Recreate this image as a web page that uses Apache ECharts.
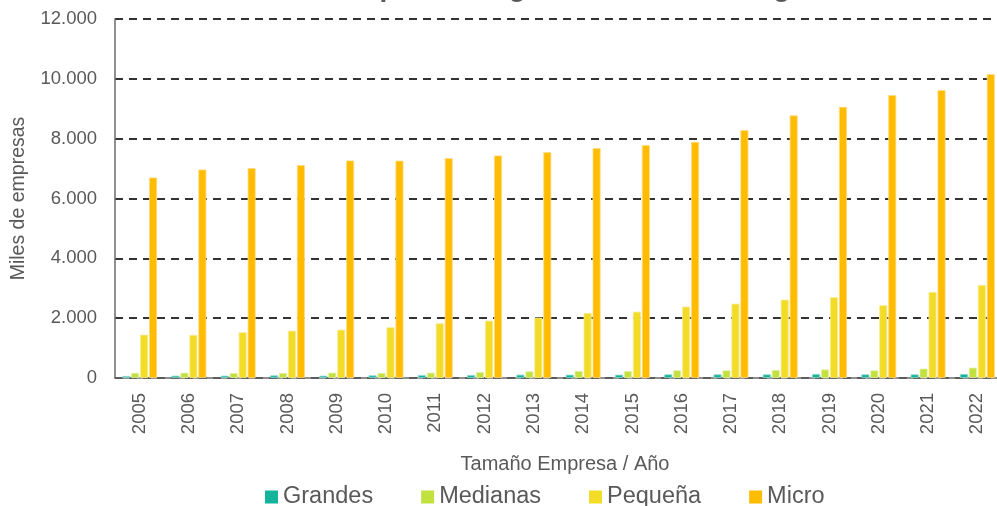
<!DOCTYPE html>
<html>
<head>
<meta charset="utf-8">
<script src="https://cdn.jsdelivr.net/npm/echarts@6/dist/echarts.min.js"></script>
<style>
  html, body { margin: 0; padding: 0; background: #fff; }
  #chart { width: 997px; height: 506px; }
</style>
</head>
<body>
<div id="chart"></div>
<script>
var years = ['2005', '2006', '2007', '2008', '2009', '2010', '2011', '2012', '2013',
             '2014', '2015', '2016', '2017', '2018', '2019', '2020', '2021', '2022'];
var grandes = [67, 78, 78, 89, 78, 89, 100, 100, 111, 111, 111, 122, 122, 122, 134, 122, 122, 134];
var medianas = [172, 178, 167, 167, 178, 167, 178, 200, 223, 234, 234, 256, 256, 268, 285, 256, 315, 346];
var pequena = [1448, 1440, 1528, 1582, 1615, 1695, 1829, 1917, 2017, 2173, 2218, 2385, 2485, 2619, 2698, 2431, 2876, 3110];
var micro = [6702, 6970, 7013, 7114, 7271, 7265, 7348, 7438, 7548, 7682, 7782, 7893, 8284, 8776, 9063, 9455, 9622, 10157];

var gray = '#595959';
var chart = echarts.init(document.getElementById('chart'));

function miles(v) {
    return String(v).replace(/\B(?=(\d{3})+(?!\d))/g, '.');
}

function barSerie(name, data, color, edge) {
    return {
        name: name,
        type: 'bar',
        data: data,
        barWidth: 8,
        barGap: '12%',
        itemStyle: { color: color, borderColor: edge, borderWidth: 0.8 }
    };
}

var option = {
    animation: false,
    textStyle: { fontFamily: 'Liberation Sans, Arial, sans-serif' },
    title: {
        // solo se ven los descendentes, el resto queda fuera de la imagen
        text: 'Número de empresas según tamaño en la región',
        left: 185,
        top: -26,
        padding: 0,
        textStyle: { fontSize: 28, fontWeight: 'bold', color: gray }
    },
    legend: {
        left: 265,
        top: 485,
        padding: 0,
        icon: 'rect',
        itemWidth: 13,
        itemHeight: 13,
        itemGap: 48,
        itemStyle: { borderWidth: 0 },
        textStyle: { fontSize: 23.5, color: gray }
    },
    grid: { left: 115, top: 19, width: 887, height: 359, outerBoundsMode: 'none' },
    xAxis: [{
        type: 'category',
        data: years,
        name: 'Tamaño Empresa / Año',
        nameLocation: 'middle',
        nameGap: 76,
        nameTextStyle: { fontSize: 20, color: gray, padding: [0, 0, 0, 13] },
        axisLine: { lineStyle: { color: '#6b6b6b', width: 1.5 } },
        axisTick: { length: 5, lineStyle: { color: '#6b6b6b' } },
        axisLabel: { rotate: 90, fontSize: 18.5, color: gray, margin: 15 }
    }, {
        type: 'category',
        data: years,
        position: 'bottom',
        axisLine: { show: false },
        axisLabel: { show: false },
        axisTick: { inside: true, alignWithLabel: true, length: 4, lineStyle: { color: '#404040' } },
        splitLine: { show: false }
    }],
    yAxis: {
        type: 'value',
        min: 0,
        max: 12000,
        interval: 2000,
        name: 'Miles de empresas',
        nameLocation: 'middle',
        nameRotate: 90,
        nameGap: 86,
        nameTextStyle: { fontSize: 19.5, color: gray },
        axisLine: { show: true, lineStyle: { color: '#6b6b6b', width: 1.5 } },
        axisTick: { show: false },
        axisLabel: { fontSize: 18.5, color: gray, margin: 18, formatter: miles },
        splitLine: { lineStyle: { color: '#333', width: 1.8, type: [8, 6] } }
    },
    series: [
        barSerie('Grandes', grandes, '#14B39B', '#8fd9cd'),
        barSerie('Medianas', medianas, '#C2E13F', '#e2f0a6'),
        barSerie('Pequeña', pequena, '#F2DC27', '#f8eb95'),
        barSerie('Micro', micro, '#FFBC00', '#ffdb80')
    ]
};

chart.setOption(option);

window.addEventListener('resize', function () {
    chart.resize();
});
</script>
</body>
</html>
